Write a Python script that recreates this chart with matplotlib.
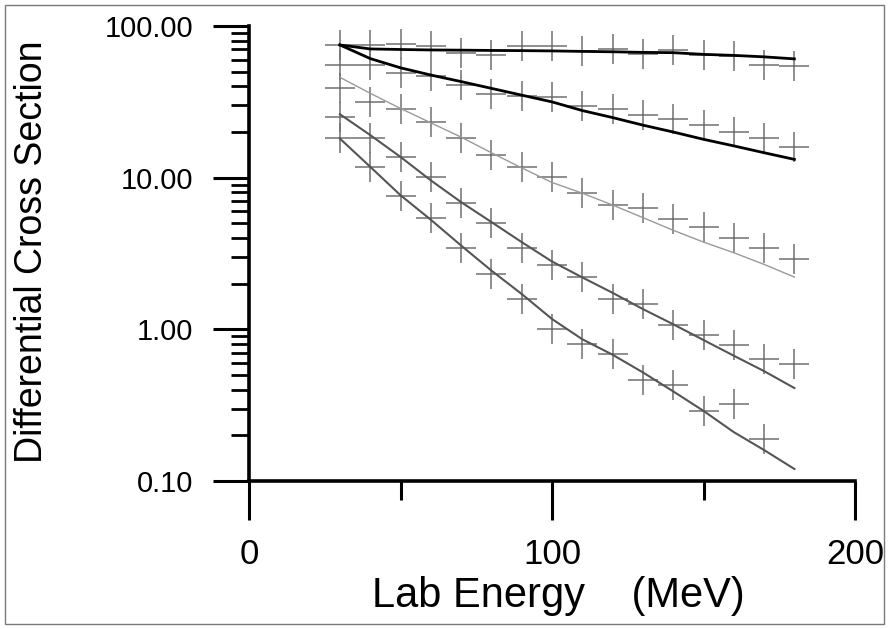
import matplotlib
matplotlib.use("Agg")
import matplotlib.pyplot as plt
from matplotlib.ticker import FixedLocator, LogLocator, NullFormatter
from matplotlib.patches import Rectangle
from matplotlib import font_manager

# ---- data ----
energy = [30, 40, 50, 60, 70, 80, 90, 100, 110, 120, 130, 140, 150, 160, 170, 180]

a_pts = [75, 75, 76, 74, 66, 64, 74, 74, 68, 70, 65.5, 69.5, 64, 63.4, 55, 54.7]
b_pts = [55, 55, 48.7, 46.8, 40.8, 35.6, 34.5, 33.8, 29.6, 28.3, 26, 24.2, 22.2, 20.0, 18.4, 16.0]
c_pts = [38.8, 31.6, 28.2, 23.3, 18.4, 14.1, 11.8, 10.1, 7.9, 6.6, 6.3, 5.3, 4.7, 4.0, 3.45, 2.92]
d_pts = [25.2, 18.4, 13.7, 10.1, 6.8, 5.0, 3.43, 2.64, 2.23, 1.59, 1.47, 1.07, 0.92, 0.79, 0.64, 0.59]
e_energy = [30, 40, 50, 60, 70, 80, 90, 100, 110, 120, 130, 140, 150, 160, 170]
e_pts = [18.4, 11.8, 7.6, 5.4, 3.43, 2.32, 1.59, 1.0, 0.80, 0.69, 0.46, 0.43, 0.29, 0.32, 0.19]

a_fit = [75, 70.6, 70, 69.5, 69.3, 69, 68.8, 68.5, 68, 67.6, 67, 66.7, 65, 64, 62.6, 60.7]
b_fit = [75, 61, 53, 47.5, 43, 38.8, 35, 31.6, 27.7, 24.9, 22.2, 20.0, 17.9, 16.2, 14.6, 13.2]
c_fit = [45.9, 36, 28.6, 23, 18.5, 14.6, 11.6, 9.3, 7.9, 6.6, 5.45, 4.5, 3.76, 3.2, 2.68, 2.21]
d_fit = [26.2, 19.1, 13.7, 9.6, 6.9, 5.1, 3.76, 2.8, 2.2, 1.74, 1.36, 1.08, 0.85, 0.67, 0.53, 0.41]
e_fit = [18.1, 11.8, 7.66, 5.28, 3.57, 2.44, 1.71, 1.17, 0.86, 0.68, 0.52, 0.39, 0.29, 0.21, 0.16, 0.12]

y_ticks = [0.1, 1, 10, 100]
y_ticklabels = ["0.10", "1.00", "10.00", "100.00"]
x_ticks = [0, 100, 200]
x_ticklabels = ["0", "100", "200"]
x_minor = [50, 150]

# ---- fonts ----
names = {f.name for f in font_manager.fontManager.ttflist}
base = "Liberation Sans" if "Liberation Sans" in names else "DejaVu Sans"
plt.rcParams["font.family"] = [base, "DejaVu Sans"]

W, H = 889, 629
fig = plt.figure(figsize=(W / 100, H / 100), dpi=100)
ax = fig.add_axes([249 / W, 1 - 481 / H, (855 - 249) / W, (481 - 26) / H])

ax.set_yscale("log")
ax.set_xlim(0, 200)
ax.set_ylim(0.1, 100)

# curves
ax.plot(energy, a_fit, color="black", lw=2.0, zorder=3)
ax.plot(energy, b_fit, color="black", lw=2.0, zorder=3)
ax.plot(energy, c_fit, color="#9a9a9a", lw=1.0, zorder=3)
ax.plot(energy, d_fit, color="#555555", lw=1.5, zorder=3)
ax.plot(energy, e_fit, color="#555555", lw=1.5, zorder=3)

# data crosses
mk = dict(linestyle="none", marker="+", markersize=22, markeredgewidth=1.1,
          color="#707070", zorder=2)
for ys in (a_pts, b_pts, c_pts, d_pts):
    ax.plot(energy, ys, **mk)
ax.plot(e_energy, e_pts, **mk)

# spines
for s in ("top", "right"):
    ax.spines[s].set_visible(False)
for s in ("left", "bottom"):
    ax.spines[s].set_linewidth(2.6)

# y ticks
ax.yaxis.set_major_locator(FixedLocator(y_ticks))
ax.set_yticklabels(y_ticklabels)
ax.yaxis.set_minor_locator(LogLocator(base=10, subs=range(2, 10)))
ax.yaxis.set_minor_formatter(NullFormatter())
ax.tick_params(axis="y", which="major", direction="out", length=26, width=2.2,
               pad=14, labelsize=21)
ax.tick_params(axis="y", which="minor", direction="out", length=13, width=2.0)

# x ticks
ax.set_xticks(x_ticks)
ax.set_xticklabels(x_ticklabels)
ax.set_xticks(x_minor, minor=True)
ax.tick_params(axis="x", which="major", direction="out", length=28, width=2.2,
               pad=13, labelsize=25)
ax.tick_params(axis="x", which="minor", direction="out", length=14, width=2.2)

# labels
fig.text(558 / W, 1 - 607 / H, "Lab Energy    (MeV)", fontsize=30,
         ha="center", va="baseline")
fig.text(32 / W, 1 - 252 / H, "Differential Cross Section", fontsize=27,
         rotation=90, ha="center", va="center")

# figure border
fig.patches.append(Rectangle((5 / W, 5 / H), 879 / W, 619 / H, transform=fig.transFigure,
                             fill=False, edgecolor="#7a7a7a", linewidth=1.0))

fig.savefig("out.png", dpi=100)
